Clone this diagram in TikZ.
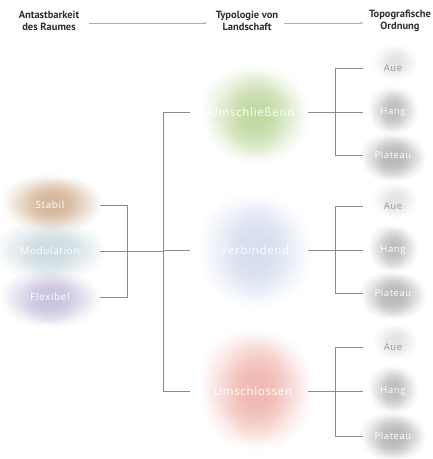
\documentclass[tikz,border=0pt]{standalone}
\usepackage{fontspec}
\setmainfont{PT Sans}
\newfontfamily\labelfont[LetterSpace=6]{Open Sans}
\usetikzlibrary{fadings,arrows.meta}

% soft round spot: opaque centre, transparent rim
\tikzfading[name=softspot, inner color=transparent!0, outer color=transparent!100]

% watercolour wash: #1,#2 centre, #3 colour, #4,#5 half sizes, #6 opacity
\newcommand\wash[6]{%
  \foreach \dx/\dy/\k in {0/0/1, -0.4/-0.3/0.75, 0.4/-0.25/0.7, -0.35/0.35/0.7, 0.35/0.3/0.75, 0.05/-0.45/0.6, 0/0.45/0.6}{%
    \fill[#3, path fading=softspot, fill opacity=#6]
      ({#1+\dx*#4},{#2+\dy*#5}) ellipse ({1.6*\k*#4} and {1.6*\k*#5});
  }%
}

\definecolor{inkc}{HTML}{2E2E2E}
\definecolor{linec}{HTML}{8A8A8A}
\definecolor{stabilc}{HTML}{D2B294}
\definecolor{moduc}{HTML}{C9DADF}
\definecolor{flexc}{HTML}{C6BFDC}
\definecolor{greenc}{HTML}{BAD69A}
\definecolor{bluec}{HTML}{D3DCEE}
\definecolor{pinkc}{HTML}{EFB2AA}
\definecolor{greyc}{HTML}{B4B4B4}
\definecolor{lgreyc}{HTML}{DDDDDD}

\tikzset{
  head/.style={font=\bfseries\fontsize{10.5}{12.5}\selectfont, text=inkc, align=center, inner sep=0pt},
  flow/.style={draw=linec!70, line width=0.6pt, -{Stealth[length=2.5pt,width=2.5pt]}},
  wlabel/.style={font=\labelfont\fontsize{10}{12}\selectfont, text=white, inner sep=1pt},
  mlabel/.style={font=\labelfont\fontsize{11.5}{13}\selectfont, text=white, inner sep=1pt},
  rlabel/.style={font=\labelfont\fontsize{9.5}{11}\selectfont, text=white, inner sep=1pt},
  glabel/.style={font=\labelfont\fontsize{9.5}{11}\selectfont, text=black!40, inner sep=1pt},
  tie/.style={draw=linec, line width=0.5pt},
}

\begin{document}
\begin{tikzpicture}[x=1pt,y=-1pt]
\useasboundingbox (0,0) rectangle (433,459);

% ---- header ----
\node[head] (h1) at (49,21) {Antastbarkeit\\des Raumes};
\node[head] (h2) at (247,21) {Typologie von\\Landschaft};
\node[head] (h3) at (400,21) {Topografische\\Ordnung};
\draw[flow] ([xshift=10pt,yshift=-2pt]h1.east) -- ([xshift=-9pt,yshift=-2pt]h2.west);
\draw[flow] ([xshift=6pt,yshift=-2pt]h2.east) -- ([xshift=-6pt,yshift=-2pt]h3.west);

% ---- washes ----
\wash{52}{203}{stabilc}{32}{19}{0.5}
\wash{50}{250}{moduc}{36}{20}{0.5}
\wash{50}{298}{flexc}{32}{19}{0.5}
\wash{255}{114}{greenc}{34}{32}{0.45}
\wash{255}{250}{bluec}{36}{38}{0.5}
\wash{256}{389}{pinkc}{36}{40}{0.45}
\foreach \yy in {0,138,279}{
  \wash{395}{\yy+62}{lgreyc}{15}{12}{0.35}
  \wash{393}{\yy+110}{greyc}{16}{16}{0.4}
  \wash{393}{\yy+157}{greyc}{21}{16}{0.5}
}

% ---- labels ----
\node[wlabel] (s) at (50,205) {Stabil};
\node[wlabel] (m) at (50,251) {Modulation};
\node[wlabel] (f) at (50,297) {Flexibel};

\node[mlabel] (t1) at (252,112) {Umschließend};
\node[mlabel] (t2) at (255,250) {Verbindend};
\node[mlabel] (t3) at (253,391) {Umschlossen};

\node[glabel] (a1) at (393,68) {Aue};
\node[rlabel] (b1) at (393,112) {Hang};
\node[rlabel] (c1) at (393,155) {Plateau};
\node[glabel] (a2) at (393,206) {Aue};
\node[rlabel] (b2) at (393,250) {Hang};
\node[rlabel] (c2) at (393,293) {Plateau};
\node[glabel] (a3) at (393,347) {Aue};
\node[rlabel] (b3) at (393,391) {Hang};
\node[rlabel] (c3) at (393,436) {Plateau};

% ---- connector x positions ----
\coordinate (lx) at (100,0);
\coordinate (jx) at (127,0);
\coordinate (kx) at (163,0);
\coordinate (ex) at (190,0);
\coordinate (rx) at (308,0);
\coordinate (qx) at (335,0);
\coordinate (tx) at (363,0);

% left bracket
\draw[tie] (s -| lx) -- (s -| jx) -- (f -| jx) -- (f -| lx);
\draw[tie] (m -| lx) -- (m -| kx);
% middle bracket
\draw[tie] (t1 -| ex) -- (t1 -| kx) -- (t3 -| kx) -- (t3 -| ex);
\draw[tie] (t2 -| kx) -- (t2 -| ex);
% right brackets
\foreach \i in {1,2,3}{
  \draw[tie] (a\i -| tx) -- (a\i -| qx) -- (c\i -| qx) -- (c\i -| tx);
  \draw[tie] (b\i -| rx) -- (b\i -| tx);
}
\end{tikzpicture}
\end{document}
